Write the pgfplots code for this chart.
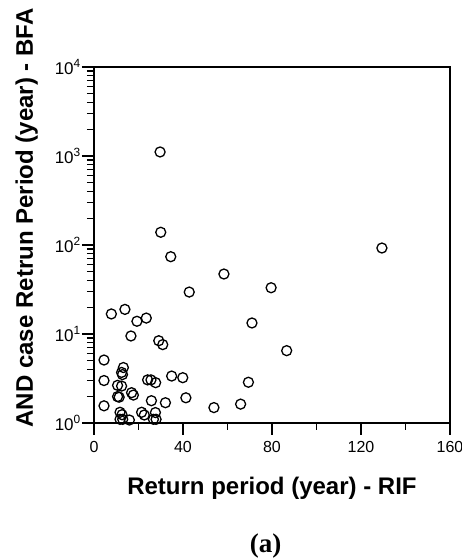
\documentclass[border=0pt]{standalone}
\usepackage{fontspec}
\setmainfont{Liberation Sans}
\newfontfamily\capfont{Liberation Serif}
\usepackage{pgfplots}
\pgfplotsset{compat=1.18}
\begin{document}
\begin{tikzpicture}
\path[use as bounding box] (-94bp,-135bp) rectangle (368bp,423bp);
\begin{axis}[
  scale only axis,
  width=356bp, height=356bp,
  at={(0,0)}, anchor=south west,
  ymode=log,
  xmin=0, xmax=160, ymin=1, ymax=10000,
  xtick={0,40,80,120,160},
  minor xtick={20,60,100,140},
  ytick={1,10,100,1000,10000},
  yticklabels={10\textsuperscript{0},10\textsuperscript{1},10\textsuperscript{2},10\textsuperscript{3},10\textsuperscript{4}},
  tick align=outside,
  xtick pos=bottom, ytick pos=left,
  major tick length=12bp, minor tick length=7bp,
  axis line style={line width=1.5bp},
  tick style={line width=1.4bp, black},
  /pgf/number format/assume math mode=true,
  xticklabel style={font=\fontsize{16bp}{18bp}\selectfont, inner sep=1bp, yshift=-5bp},
  yticklabel style={font=\fontsize{17bp}{19bp}\selectfont, inner sep=1bp},
  xlabel={Return period (year) - RIF},
  ylabel={AND case Retrun Period (year) - BFA},
  every axis x label/.style={at={(axis description cs:0.5,0)}, anchor=base, yshift=-71bp, font=\fontsize{24bp}{28bp}\selectfont\bfseries},
  every axis y label/.style={at={(axis description cs:0,0.576)}, rotate=90, anchor=base, yshift=61bp, font=\fontsize{24bp}{28bp}\selectfont\bfseries},
  clip=false,
]
\addplot[only marks, mark=o, mark size=5bp, mark options={line width=1.3bp, black}] coordinates {
(4.5,5.1) (4.5,3.0) (4.5,1.56) (7.8,16.8) (13.9,18.9) (19.3,13.9) (23.5,15.1)
(16.6,9.5) (29.1,8.4) (30.9,7.6) (13.2,4.2) (12.4,3.7) (12.8,3.5) (10.6,2.65)
(12.4,2.6) (24.1,3.05) (25.6,3.05) (27.7,2.84) (34.9,3.37) (39.9,3.23) (69.4,2.87)
(10.6,1.98) (11.3,1.95) (16.9,2.19) (17.7,2.06) (25.8,1.78) (32.1,1.69) (41.3,1.92)
(53.9,1.49) (65.9,1.63) (11.7,1.32) (12.6,1.24) (21.4,1.32) (22.6,1.23) (27.6,1.31)
(11.7,1.10) (12.9,1.10) (15.9,1.08) (26.7,1.10) (27.9,1.10)
(29.7,1110) (30.0,139) (34.5,73.9) (58.4,47.2) (42.8,29.6) (79.6,33.1) (71.0,13.3)
(86.6,6.5) (129.4,92.5)
};
\node[anchor=base, yshift=-129bp, font=\fontsize{27bp}{30bp}\selectfont\capfont\bfseries] at (axis description cs:0.482,0) {(a)};
\end{axis}
\end{tikzpicture}
\end{document}
